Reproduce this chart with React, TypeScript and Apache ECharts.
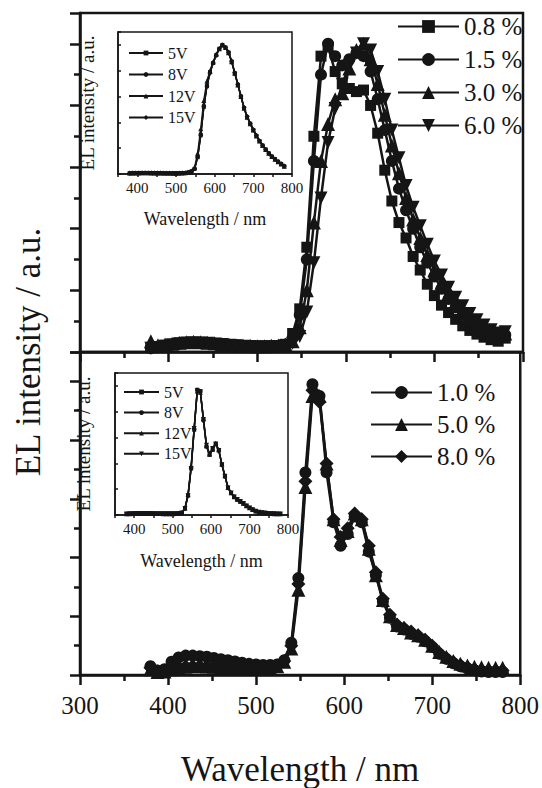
import React, { useEffect, useRef } from "react";
import * as echarts from "echarts";

// Wavelength grid (nm)
const wavelengths = [
  380, 388, 396, 404, 412, 420, 428, 436, 444, 452, 460, 468, 476, 484, 492, 500, 508, 516, 524, 532,
  540, 548, 556, 564, 572, 580, 588, 596, 604, 612, 620, 628, 636, 644, 652, 660, 668, 676, 684, 692,
  700, 708, 716, 724, 732, 740, 748, 756, 764, 772, 780,
];

// Top panel series (normalized EL intensity)
const top08 = [
  0.015, 0.018, 0.022, 0.026, 0.03, 0.032, 0.032, 0.031, 0.03, 0.028, 0.026, 0.024, 0.022, 0.02, 0.019, 0.018, 0.018, 0.019, 0.02, 0.025,
  0.06, 0.14, 0.34, 0.7, 0.96, 0.99, 0.91, 0.87, 0.855, 0.845, 0.85, 0.8, 0.71, 0.59, 0.49, 0.42, 0.37, 0.31, 0.266, 0.22,
  0.183, 0.152, 0.128, 0.106, 0.085, 0.07, 0.058, 0.048, 0.04, 0.035, 0.045,
];
const top15 = [
  0.012, 0.016, 0.02, 0.024, 0.027, 0.029, 0.03, 0.03, 0.029, 0.027, 0.025, 0.023, 0.021, 0.019, 0.018, 0.017, 0.017, 0.018, 0.02, 0.024,
  0.045, 0.12, 0.3, 0.62, 0.9, 1.0, 0.96, 0.93, 0.95, 0.97, 0.96, 0.91, 0.82, 0.72, 0.62, 0.53, 0.46, 0.4, 0.34, 0.29,
  0.245, 0.205, 0.172, 0.145, 0.12, 0.1, 0.084, 0.07, 0.06, 0.052, 0.055,
];
const top30 = [
  0.035, 0.022, 0.024, 0.027, 0.03, 0.032, 0.033, 0.032, 0.03, 0.028, 0.026, 0.024, 0.022, 0.021, 0.02, 0.019, 0.019, 0.02, 0.021, 0.024,
  0.035, 0.08, 0.2, 0.42, 0.62, 0.74, 0.82, 0.84, 0.92, 0.98, 1.0, 0.95, 0.87, 0.77, 0.67, 0.58, 0.5, 0.43, 0.37, 0.315,
  0.265, 0.225, 0.19, 0.16, 0.135, 0.113, 0.095, 0.08, 0.068, 0.058, 0.06,
];
const top60 = [
  0.012, 0.015, 0.019, 0.023, 0.026, 0.028, 0.029, 0.029, 0.028, 0.026, 0.024, 0.022, 0.02, 0.019, 0.018, 0.017, 0.017, 0.017, 0.018, 0.021,
  0.028, 0.05, 0.13, 0.29, 0.5, 0.68, 0.79, 0.87, 0.93, 0.97, 1.0, 0.98, 0.91, 0.82, 0.72, 0.63, 0.54, 0.47, 0.41, 0.35,
  0.295, 0.25, 0.21, 0.178, 0.15, 0.125, 0.105, 0.088, 0.072, 0.062, 0.066,
];

// Bottom panel series
const bot10 = [
  0.03, 0.015, 0.02, 0.045, 0.06, 0.066, 0.066, 0.064, 0.062, 0.058, 0.054, 0.05, 0.046, 0.042, 0.038, 0.036, 0.034, 0.034, 0.036, 0.05,
  0.11, 0.33, 0.69, 0.99, 0.95, 0.69, 0.52, 0.44, 0.48, 0.54, 0.52, 0.42, 0.34, 0.25, 0.195, 0.165, 0.155, 0.14, 0.13, 0.115,
  0.095, 0.072, 0.055, 0.04, 0.03, 0.022, 0.016, 0.012, 0.01, 0.01, 0.01,
];
const bot50 = [
  0.02, 0.01, 0.012, 0.02, 0.025, 0.028, 0.03, 0.03, 0.029, 0.028, 0.026, 0.025, 0.024, 0.023, 0.022, 0.022, 0.022, 0.024, 0.03, 0.045,
  0.09, 0.29, 0.64, 0.95, 0.95, 0.72, 0.53, 0.46, 0.49, 0.55, 0.53, 0.43, 0.34, 0.255, 0.2, 0.17, 0.16, 0.145, 0.135, 0.12,
  0.1, 0.078, 0.062, 0.048, 0.038, 0.032, 0.028, 0.026, 0.025, 0.025, 0.025,
];
const bot80 = [
  0.025, 0.012, 0.014, 0.022, 0.027, 0.03, 0.031, 0.031, 0.03, 0.029, 0.027, 0.026, 0.025, 0.024, 0.023, 0.023, 0.023, 0.025, 0.032, 0.048,
  0.1, 0.31, 0.66, 0.97, 0.93, 0.72, 0.53, 0.47, 0.5, 0.55, 0.53, 0.44, 0.35, 0.26, 0.205, 0.172, 0.16, 0.148, 0.135, 0.12,
  0.1, 0.076, 0.058, 0.044, 0.034, 0.026, 0.02, 0.017, 0.015, 0.015, 0.015,
];

// Top inset (voltage dependence)
const insetTop5V = [
  0.006, 0.007, 0.007, 0.008, 0.008, 0.008, 0.008, 0.008, 0.007, 0.007, 0.007, 0.006, 0.006, 0.006, 0.006, 0.006, 0.006, 0.007, 0.008, 0.012,
  0.02, 0.04, 0.13, 0.3, 0.52, 0.68, 0.79, 0.86, 0.92, 0.97, 1.0, 0.98, 0.94, 0.87, 0.78, 0.69, 0.6, 0.51, 0.44, 0.39,
  0.34, 0.295, 0.255, 0.22, 0.19, 0.16, 0.135, 0.115, 0.095, 0.078, 0.06,
];
const insetTop8V = [
  0.006, 0.006, 0.007, 0.007, 0.008, 0.008, 0.008, 0.008, 0.008, 0.007, 0.007, 0.007, 0.006, 0.006, 0.006, 0.006, 0.006, 0.007, 0.008, 0.013,
  0.021, 0.042, 0.135, 0.31, 0.53, 0.69, 0.79, 0.86, 0.92, 0.97, 1.0, 0.98, 0.94, 0.87, 0.785, 0.695, 0.6, 0.515, 0.445, 0.39,
  0.34, 0.295, 0.255, 0.22, 0.19, 0.16, 0.136, 0.115, 0.096, 0.078, 0.061,
];
const insetTop12V = [
  0.007, 0.007, 0.008, 0.008, 0.009, 0.009, 0.009, 0.008, 0.008, 0.008, 0.007, 0.007, 0.007, 0.007, 0.006, 0.006, 0.007, 0.008, 0.009, 0.014,
  0.024, 0.05, 0.16, 0.35, 0.57, 0.72, 0.8, 0.87, 0.93, 0.97, 1.0, 0.98, 0.94, 0.87, 0.78, 0.69, 0.6, 0.51, 0.44, 0.39,
  0.34, 0.295, 0.255, 0.22, 0.19, 0.16, 0.135, 0.115, 0.095, 0.078, 0.06,
];
const insetTop15V = [
  0.006, 0.007, 0.007, 0.008, 0.008, 0.008, 0.008, 0.008, 0.008, 0.007, 0.007, 0.006, 0.006, 0.006, 0.006, 0.006, 0.006, 0.007, 0.008, 0.012,
  0.02, 0.041, 0.13, 0.3, 0.52, 0.68, 0.78, 0.86, 0.92, 0.97, 1.0, 0.98, 0.945, 0.875, 0.785, 0.695, 0.605, 0.515, 0.445, 0.39,
  0.345, 0.3, 0.258, 0.222, 0.19, 0.161, 0.136, 0.116, 0.096, 0.079, 0.062,
];

// Bottom inset (voltage dependence)
const insetBot5V = [
  0.008, 0.009, 0.01, 0.011, 0.012, 0.012, 0.012, 0.011, 0.011, 0.01, 0.01, 0.01, 0.01, 0.01, 0.01, 0.01, 0.01, 0.011, 0.015, 0.05,
  0.15, 0.36, 0.66, 0.97, 0.96, 0.74, 0.53, 0.47, 0.51, 0.55, 0.5, 0.39, 0.3, 0.21, 0.17, 0.14, 0.12, 0.105, 0.09, 0.07,
  0.055, 0.04, 0.03, 0.022, 0.018, 0.015, 0.012, 0.01, 0.01, 0.008, 0.008,
];
const insetBot8V = [
  0.008, 0.009, 0.01, 0.011, 0.011, 0.012, 0.012, 0.012, 0.011, 0.011, 0.01, 0.01, 0.01, 0.01, 0.01, 0.01, 0.01, 0.011, 0.016, 0.052,
  0.155, 0.37, 0.67, 0.97, 0.955, 0.73, 0.53, 0.465, 0.505, 0.55, 0.5, 0.39, 0.3, 0.212, 0.171, 0.141, 0.121, 0.105, 0.09, 0.071,
  0.055, 0.041, 0.031, 0.023, 0.018, 0.015, 0.012, 0.011, 0.01, 0.009, 0.008,
];
const insetBot12V = [
  0.009, 0.01, 0.011, 0.012, 0.012, 0.013, 0.013, 0.012, 0.012, 0.011, 0.011, 0.011, 0.01, 0.01, 0.01, 0.01, 0.011, 0.012, 0.017, 0.055,
  0.16, 0.38, 0.68, 0.96, 0.95, 0.75, 0.54, 0.47, 0.51, 0.555, 0.505, 0.395, 0.305, 0.215, 0.172, 0.142, 0.122, 0.106, 0.091, 0.072,
  0.056, 0.042, 0.031, 0.023, 0.019, 0.016, 0.013, 0.011, 0.01, 0.009, 0.009,
];
const insetBot15V = [
  0.008, 0.009, 0.01, 0.011, 0.011, 0.012, 0.012, 0.011, 0.011, 0.01, 0.01, 0.01, 0.01, 0.01, 0.01, 0.01, 0.01, 0.011, 0.015, 0.05,
  0.15, 0.36, 0.67, 0.96, 0.95, 0.74, 0.54, 0.475, 0.515, 0.55, 0.5, 0.39, 0.3, 0.21, 0.17, 0.14, 0.12, 0.104, 0.089, 0.07,
  0.055, 0.04, 0.03, 0.022, 0.018, 0.015, 0.012, 0.01, 0.01, 0.008, 0.008,
];

const topNames = ["0.8 %", "1.5 %", "3.0 %", "6.0 %"];
const botNames = ["1.0 %", "5.0 %", "8.0 %"];
const insetTopNames = ["5V", "8V", "12V", "15V"];
const insetBotNames = ["5V ", "8V ", "12V ", "15V "];

const FONT = "Liberation Serif, Times New Roman, serif";
const INK = "#151515";
const DOWN_TRI = "path://M0,0L10,0L5,9Z";

function pairs(ys: number[]) {
  return wavelengths.map((w, i) => [w, ys[i]]);
}

function lineSeries(name: string, ys: number[], idx: number, symbol: string, size: number, width: number) {
  return {
    name,
    type: "line",
    xAxisIndex: idx,
    yAxisIndex: idx,
    data: pairs(ys),
    symbol,
    symbolSize: size,
    showSymbol: true,
    lineStyle: { color: INK, width },
    itemStyle: { color: INK, borderWidth: 0 },
    emphasis: { disabled: true },
    z: 3,
  };
}

function mainX(gridIndex: number, labels: boolean) {
  return {
    gridIndex,
    type: "value",
    min: 300,
    max: 800,
    interval: 100,
    axisLine: { show: true, onZero: false, lineStyle: { color: INK, width: 2.5 } },
    axisTick: { show: true, inside: false, length: 10, lineStyle: { color: INK, width: 2.5 } },
    minorTick: { show: true, splitNumber: 2, length: 6, lineStyle: { color: INK, width: 2.5 } },
    splitLine: { show: false },
    axisLabel: { show: labels, fontSize: 25, fontFamily: FONT, color: INK, margin: 18 },
    name: labels ? "Wavelength / nm" : "",
    nameLocation: "middle",
    nameGap: 77,
    nameTextStyle: { fontSize: 35, fontFamily: FONT, color: INK },
  };
}

function mainY(gridIndex: number) {
  return {
    gridIndex,
    type: "value",
    min: 0,
    max: 1.1,
    interval: 0.2,
    axisLine: { show: true, onZero: false, lineStyle: { color: INK, width: 2.5 } },
    axisTick: { show: true, inside: false, length: 10, lineStyle: { color: INK, width: 2.5 } },
    minorTick: { show: true, splitNumber: 2, length: 6, lineStyle: { color: INK, width: 2.5 } },
    splitLine: { show: false },
    axisLabel: { show: false },
  };
}

function insetX(gridIndex: number, nameGap: number) {
  return {
    gridIndex,
    type: "value",
    min: 350,
    max: 800,
    interval: 50,
    axisLine: { show: true, onZero: false, lineStyle: { color: INK, width: 1.5 } },
    axisTick: { show: true, inside: false, length: 3, lineStyle: { color: INK, width: 1.5 } },
    splitLine: { show: false },
    axisLabel: {
      show: true,
      fontSize: 15,
      fontFamily: FONT,
      color: INK,
      margin: 6,
      formatter: (v: number) => (v % 100 === 0 ? String(v) : ""),
    },
    name: "Wavelength / nm",
    nameLocation: "middle",
    nameGap,
    nameTextStyle: { fontSize: 18, fontFamily: FONT, color: INK },
  };
}

function insetY(gridIndex: number, nameGap: number) {
  return {
    gridIndex,
    type: "value",
    min: 0,
    max: 1.1,
    interval: 0.2,
    axisLine: { show: true, onZero: false, lineStyle: { color: INK, width: 1.5 } },
    axisTick: { show: true, inside: true, length: 3, lineStyle: { color: INK, width: 1.5 } },
    splitLine: { show: false },
    axisLabel: { show: false },
    name: "EL intensity / a.u.",
    nameLocation: "middle",
    nameGap,
    nameRotate: 90,
    nameTextStyle: { fontSize: 19, fontFamily: FONT, color: INK },
  };
}

function legend(data: string[], left: number, top: number, w: number, h: number, fs: number, gap: number) {
  return {
    data,
    orient: "vertical",
    left,
    top,
    itemWidth: w,
    itemHeight: h,
    itemGap: gap,
    selectedMode: false,
    padding: 0,
    textStyle: { fontSize: fs, fontFamily: FONT, color: INK },
  };
}

export default function App() {
  const ref = useRef<HTMLDivElement>(null);
  useEffect(() => {
    if (!ref.current) return;
    const chart = echarts.init(ref.current, null, { renderer: "svg" });
    const option = {
      animation: false,
      backgroundColor: "#ffffff",
      textStyle: { fontFamily: FONT },
      grid: [
        { left: 80, top: 13, width: 443, height: 339, show: true, borderColor: INK, borderWidth: 2.5, backgroundColor: "transparent" },
        { left: 80, top: 352, width: 443, height: 341, show: true, borderColor: INK, borderWidth: 2.5, backgroundColor: "transparent" },
        { left: 118, top: 32, width: 174, height: 142, show: true, borderColor: INK, borderWidth: 1.5, backgroundColor: "#fff" },
        { left: 115, top: 373, width: 173, height: 142, show: true, borderColor: INK, borderWidth: 1.5, backgroundColor: "#fff" },
      ],
      xAxis: [mainX(0, false), mainX(1, true), insetX(2, 36), insetX(3, 37)],
      yAxis: [mainY(0), mainY(1), insetY(2, 21), insetY(3, 22)],
      legend: [
        legend(topNames, 397, 14, 61, 16, 25, 8),
        legend(botNames, 370, 380, 61, 16, 25, 7),
        legend(insetTopNames, 128, 45, 34, 6, 16, 5.5),
        legend(insetBotNames, 123, 384, 35, 6, 16, 4.6),
      ],
      graphic: [
        {
          type: "text",
          x: 28,
          y: 352,
          rotation: Math.PI / 2,
          style: {
            text: "EL intensity / a.u.",
            font: "35px Liberation Serif, Times New Roman, serif",
            fill: INK,
            textAlign: "center",
            textVerticalAlign: "middle",
          },
        },
      ],
      series: [
        lineSeries(topNames[0], top08, 0, "rect", 11, 2.5),
        lineSeries(topNames[1], top15, 0, "circle", 12, 2.5),
        lineSeries(topNames[2], top30, 0, "triangle", 14, 2.5),
        lineSeries(topNames[3], top60, 0, DOWN_TRI, 13, 2.5),
        lineSeries(botNames[0], bot10, 1, "circle", 12, 2.5),
        lineSeries(botNames[1], bot50, 1, "triangle", 14, 2.5),
        lineSeries(botNames[2], bot80, 1, "diamond", 14, 2.5),
        lineSeries(insetTopNames[0], insetTop5V, 2, "rect", 4, 1.5),
        lineSeries(insetTopNames[1], insetTop8V, 2, "circle", 4, 1.5),
        lineSeries(insetTopNames[2], insetTop12V, 2, "triangle", 5, 1.5),
        lineSeries(insetTopNames[3], insetTop15V, 2, "diamond", 5, 1.5),
        lineSeries(insetBotNames[0], insetBot5V, 3, "rect", 4, 1.5),
        lineSeries(insetBotNames[1], insetBot8V, 3, "circle", 4, 1.5),
        lineSeries(insetBotNames[2], insetBot12V, 3, "triangle", 5, 1.5),
        lineSeries(insetBotNames[3], insetBot15V, 3, DOWN_TRI, 5, 1.5),
      ],
    };
    chart.setOption(option as any);
    return () => chart.dispose();
  }, []);
  return <div ref={ref} style={{ width: 542, height: 788, position: "absolute", left: 0, top: 0 }} />;
}
